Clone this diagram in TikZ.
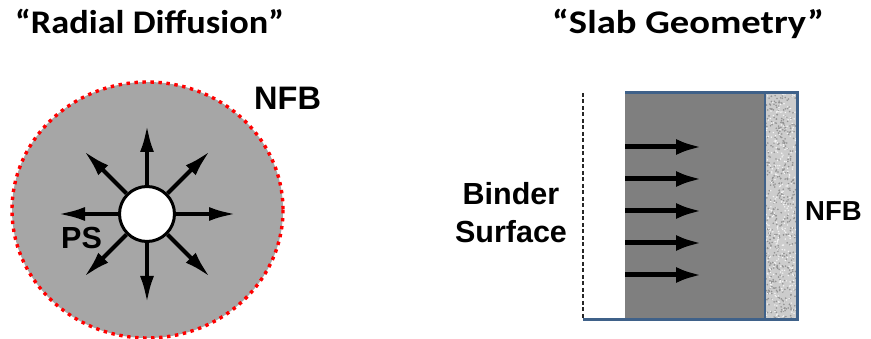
\documentclass[tikz,border=0pt]{standalone}
\usepackage{fontspec}
\usepackage{graphicx}
\setmainfont{Liberation Sans}
\newfontfamily\titlefont{Carlito}
\usetikzlibrary{arrows.meta,calc}
\definecolor{circgray}{HTML}{A6A6A6}
\definecolor{slabgray}{HTML}{7F7F7F}
\definecolor{edgeblue}{HTML}{3F6189}
\definecolor{dotred}{HTML}{FF0000}
\tikzset{
  titletext/.style={font=\titlefont\bfseries\fontsize{33}{36}\selectfont, inner sep=0pt, anchor=base west},
  labeltext/.style={font=\bfseries\fontsize{30.5}{38}\selectfont, inner sep=0pt},
  radarrow/.style={line width=4pt, -{Latex[length=27pt,width=14pt]}},
  slabarrow/.style={line width=5pt, -{Latex[length=26pt,width=16pt]}},
  blueedge/.style={edgeblue, line width=3pt},
}
\begin{document}
\begin{tikzpicture}[x=1pt,y=-1pt]
\useasboundingbox (0,0) rectangle (871,339);
% titles
\node[titletext] (t1) at (15,34) {\scalebox{1.1}[1]{“Radial Diffusion”}};
\node[titletext] (t2) at (552,34) {\scalebox{1.17}[1]{“Slab Geometry”}};
% radial picture
\fill[circgray] (147.5,210) ellipse [x radius=135.5, y radius=128];
\draw[dotred, line width=3.4pt, dash pattern=on 3.4pt off 4.6pt] (147.5,210) ellipse [x radius=135.5, y radius=128];
\node[circle, draw=black, line width=3pt, fill=white, minimum size=55pt, inner sep=0pt] (ps) at (147,214) {};
\foreach \a in {0,45,...,315} {
  \coordinate (tip\a) at ($(147,214)+(\a:89 and -89)$);
}
\foreach \a in {0,45,...,315} {
  \draw[radarrow] (ps.\a) -- (tip\a);
}
\node[labeltext, anchor=base west] (pslab) at (61,249) {PS};
\node[labeltext, anchor=base west, font=\bfseries\fontsize{32.5}{38}\selectfont] (nfb1) at (254,110) {NFB};
% slab picture
\fill[slabgray] (625,93) rectangle (765,320);
\fill[gray!40] (765,93) rectangle (797,320);
\pgfmathsetseed{7}
\foreach \i in {1,...,450} {
  \pgfmathsetmacro{\px}{766+rnd*30}
  \pgfmathsetmacro{\py}{94+rnd*225}
  \fill[gray!85] (\px,\py) circle (0.9);
}
\foreach \i in {1,...,300} {
  \pgfmathsetmacro{\px}{766+rnd*30}
  \pgfmathsetmacro{\py}{94+rnd*225}
  \fill[white!92!gray] (\px,\py) circle (0.8);
}
\node[inner sep=0pt, minimum width=214pt, minimum height=227pt] (slab) at (690,206.5) {};
\coordinate (tl) at (583,93);
\coordinate (bl) at (583,320);
\coordinate (gt) at (625,93);
\coordinate (st) at (765,93);
\coordinate (sb) at (765,320);
\coordinate (tr) at (797,93);
\coordinate (br) at (797,320);
\draw[line width=1.1pt, dash pattern=on 4pt off 2.5pt, black!85] (tl) -- (bl);
\draw[blueedge] (gt) -- (tr) -- (br) -- (bl);
\draw[edgeblue, line width=2.5pt] (st) -- (sb);
\foreach \y in {147,179,211,243,275} {
  \coordinate (as\y) at (625,\y);
  \coordinate (ae\y) at (702,\y);
  \draw[slabarrow] (as\y) -- (ae\y);
}
\node[labeltext, align=center, anchor=north] (binder) at (511,182) {Binder\\Surface};
\node[labeltext, anchor=base west, font=\bfseries\fontsize{27.5}{34}\selectfont] (nfb2) at (805,221) {NFB};
\end{tikzpicture}
\end{document}
